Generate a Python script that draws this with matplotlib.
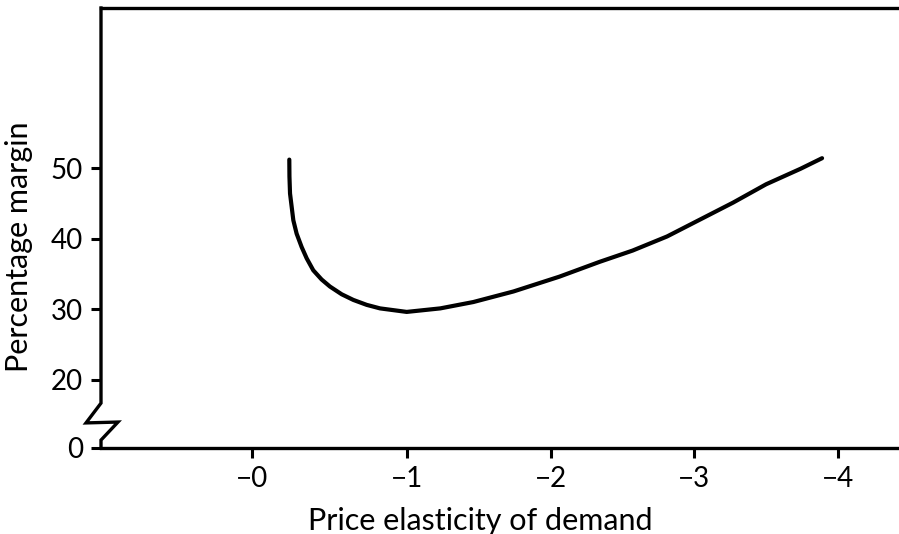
import numpy as np
import matplotlib
matplotlib.use("Agg")
import matplotlib.pyplot as plt

# curve (elasticity magnitude, percentage margin)
elasticity = [0.178, 0.179, 0.183, 0.206, 0.229, 0.264, 0.299, 0.345, 0.403,
              0.461, 0.543, 0.624, 0.717, 0.810, 0.996, 1.23, 1.46, 1.74,
              2.06, 2.34, 2.57, 2.81, 3.04, 3.27, 3.50, 3.74, 3.89]
margin = [51.2, 48.8, 46.4, 42.6, 40.7, 38.8, 37.2, 35.5, 34.2,
          33.2, 32.1, 31.3, 30.6, 30.1, 29.6, 30.1, 31.0, 32.5,
          34.6, 36.7, 38.3, 40.3, 42.7, 45.1, 47.7, 49.9, 51.4]

x_ticks = [-0.08, 1, 2, 3, 4]
x_labels = ["\u22120", "\u22121", "\u22122", "\u22123", "\u22124"]
y_ticks = [10.3, 20, 30, 40, 50]
y_labels = ["0", "20", "30", "40", "50"]

plt.rcParams['font.family'] = ['Lato', 'DejaVu Sans']

fig = plt.figure(figsize=(8.99, 5.34), dpi=100)
ax = fig.add_axes([101 / 899, (534 - 448) / 534, 798 / 899, 440 / 534])

ax.plot(elasticity, margin, color='black', lw=3, solid_capstyle='round',
        solid_joinstyle='round')

ax.set_xlim(-1.134, 4.426)
ax.set_ylim(10.3, 72.7)

ax.set_xticks(x_ticks)
ax.set_xticklabels(x_labels)
ax.set_yticks(y_ticks)
ax.set_yticklabels(y_labels)
ax.tick_params(direction='out', length=7, width=2.2, pad=6, labelsize=20, colors='black')

ax.spines['right'].set_visible(False)
ax.spines['left'].set_visible(False)
for s in ['top', 'bottom']:
    ax.spines[s].set_linewidth(2.4)

# left axis with the zigzag break
ax.plot([0, 0, -0.0188, 0.0213, 0, 0], [1, 0.102, 0.057, 0.059, 0.018, 0],
        transform=ax.transAxes, color='black', lw=2.4, clip_on=False,
        solid_joinstyle='miter')

ax.set_xlabel('Price elasticity of demand', fontsize=22)
ax.xaxis.set_label_coords(0.475, -0.135)
ax.set_ylabel('Percentage margin', fontsize=22)
ax.yaxis.set_label_coords(-0.085, 0.457)

fig.savefig('out.png', dpi=100)
